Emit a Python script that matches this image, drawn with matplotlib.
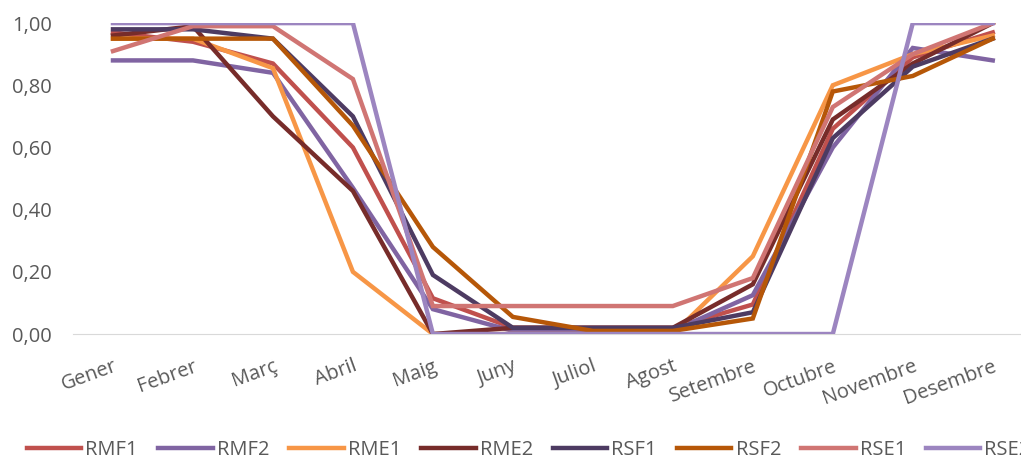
import matplotlib.pyplot as plt

# categories and series
mesos = ['Gener', 'Febrer', 'Març', 'Abril', 'Maig', 'Juny', 'Juliol', 'Agost',
         'Setembre', 'Octubre', 'Novembre', 'Desembre']

rmf1 = [0.97, 0.94, 0.87, 0.60, 0.115, 0.02, 0.02, 0.02, 0.095, 0.66, 0.89, 0.97]
rmf2 = [0.88, 0.88, 0.84, 0.47, 0.08, 0.01, 0.01, 0.01, 0.125, 0.60, 0.92, 0.88]
rme1 = [0.95, 0.95, 0.855, 0.20, 0.00, 0.00, 0.00, 0.00, 0.25, 0.80, 0.90, 0.96]
rme2 = [0.96, 0.99, 0.70, 0.46, 0.00, 0.02, 0.02, 0.02, 0.16, 0.69, 0.87, 1.00]
rsf1 = [0.98, 0.98, 0.95, 0.70, 0.19, 0.02, 0.02, 0.02, 0.07, 0.63, 0.86, 0.95]
rsf2 = [0.95, 0.95, 0.95, 0.67, 0.28, 0.055, 0.01, 0.01, 0.05, 0.78, 0.83, 0.95]
rse1 = [0.91, 0.99, 0.99, 0.82, 0.09, 0.09, 0.09, 0.09, 0.18, 0.73, 0.90, 1.00]
rse2 = [1.00, 1.00, 1.00, 1.00, 0.00, 0.00, 0.00, 0.00, 0.00, 0.00, 1.00, 1.00]

series = [('RMF1', rmf1, '#C0504D'), ('RMF2', rmf2, '#8064A2'),
          ('RME1', rme1, '#F79646'), ('RME2', rme2, '#772C2A'),
          ('RSF1', rsf1, '#4D3B62'), ('RSF2', rsf2, '#B65708'),
          ('RSE1', rse1, '#D07573'), ('RSE2', rse2, '#9C85C0')]

plt.rcParams['font.family'] = ['Open Sans', 'DejaVu Sans']
txt = '#595959'
fs = 14.5

fig = plt.figure(figsize=(10.21, 4.62), dpi=100)
ax = fig.add_axes([0.0715, 0.277, 0.94, 0.673])

x = range(len(mesos))
for name, vals, col in series:
    ax.plot(x, vals, color=col, lw=3.2, label=name, solid_joinstyle='miter')

ax.set_xlim(-0.5, 11.5)
ax.set_ylim(0, 1)
ax.set_yticks([0, 0.2, 0.4, 0.6, 0.8, 1.0])
ax.set_yticklabels(['0,00', '0,20', '0,40', '0,60', '0,80', '1,00'])
ax.set_xticks(list(x))
ax.set_xticklabels(mesos, rotation=20, ha='right', va='top', rotation_mode='anchor')
ax.tick_params(axis='both', length=0, labelsize=fs, colors=txt)
ax.tick_params(axis='y', pad=15)
ax.tick_params(axis='x', pad=16)
for s in ['top', 'right', 'left']:
    ax.spines[s].set_visible(False)
ax.spines['bottom'].set_color('#D9D9D9')
ax.spines['bottom'].set_zorder(0)

# legend runs past the right edge, as in the original (cropped) chart
fig.legend(loc='center', bbox_to_anchor=(0.518, 0.026), ncol=8, frameon=False,
           fontsize=fs, labelcolor=txt, handlelength=2.7, columnspacing=1.0,
           handletextpad=0.2)

fig.savefig('out.png', dpi=100)
